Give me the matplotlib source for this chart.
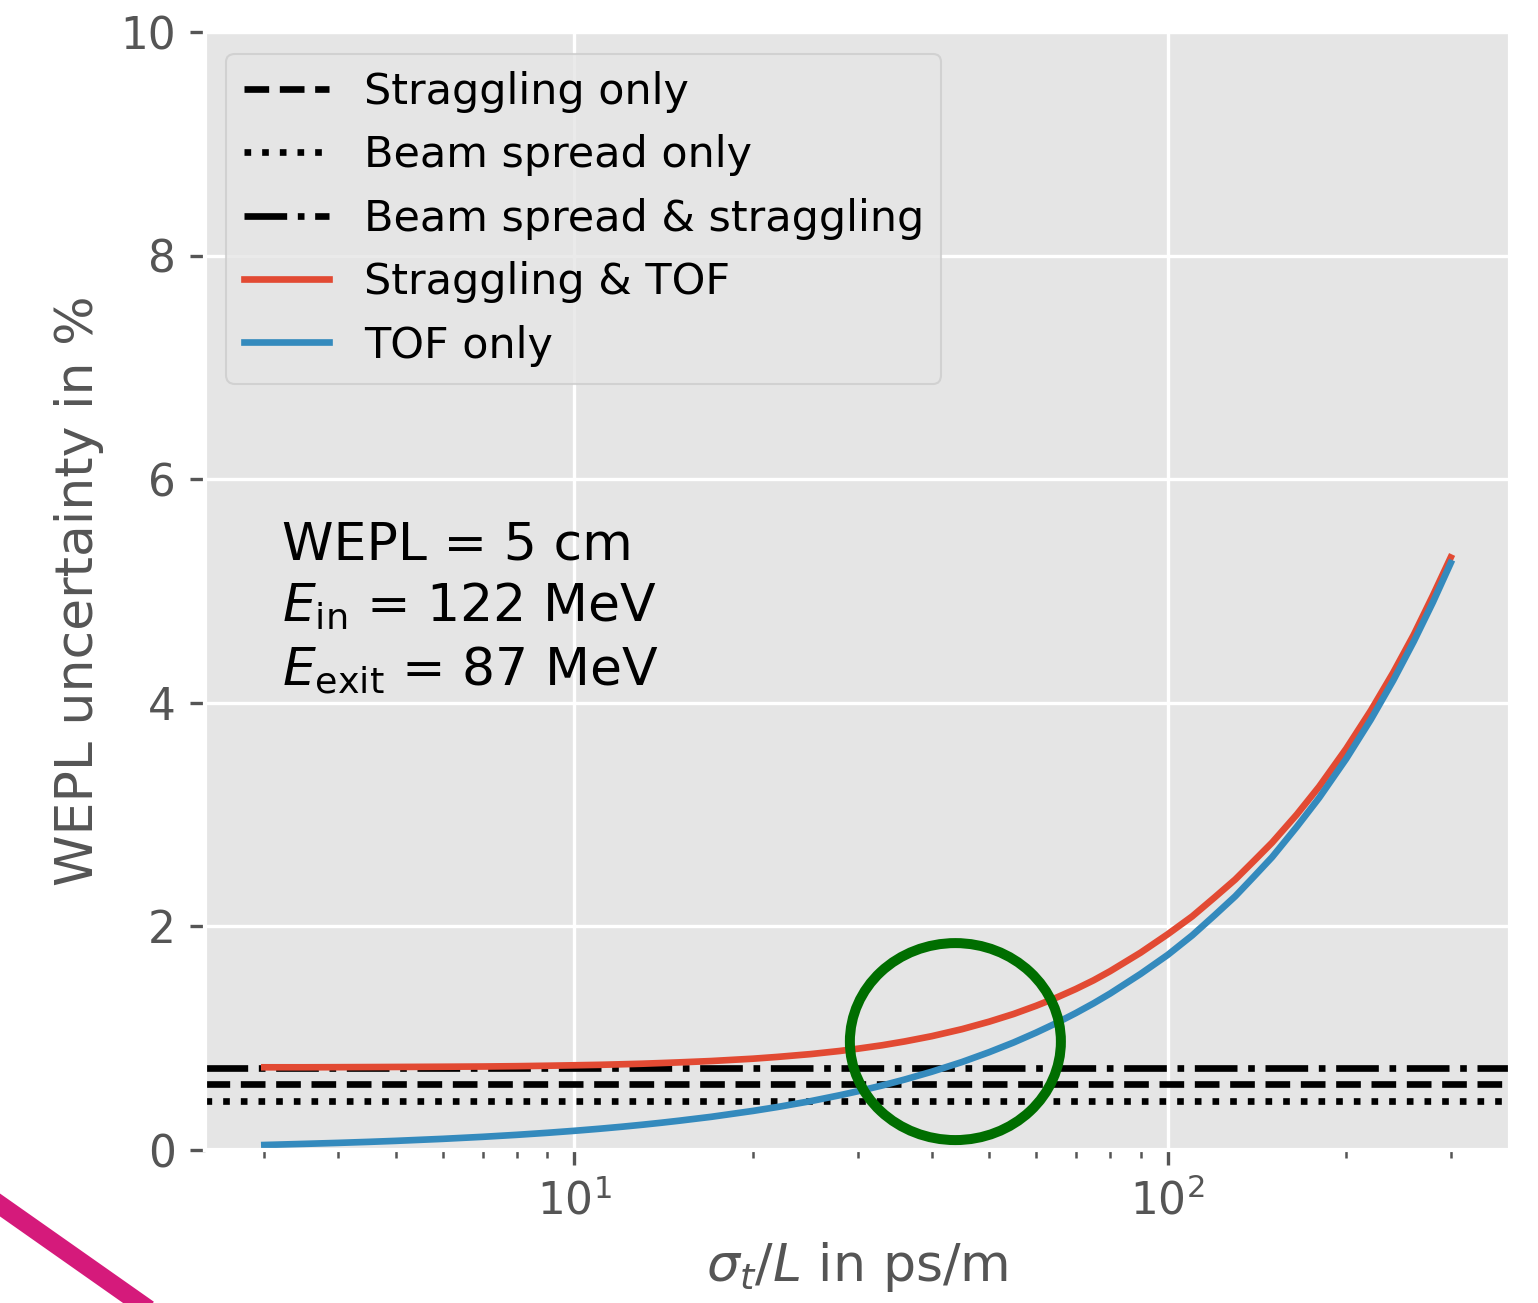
import matplotlib.pyplot as plt
from matplotlib.patches import Ellipse
from matplotlib.lines import Line2D

plt.style.use('ggplot')

# time resolution per path length (ps/m)
sigma_t = [3, 3.5, 4, 4.5, 5, 6, 7, 8, 9, 10, 11, 12, 13, 14, 15, 17, 20,
           22, 25, 28, 30, 33, 36, 40, 45, 50, 55, 60, 65, 70, 75, 80, 90,
           100, 110, 120, 130, 140, 150, 165, 180, 200, 220, 240, 260, 280,
           300]
# WEPL uncertainty in %
tof_only = [0.045, 0.055, 0.064, 0.073, 0.082, 0.100, 0.118, 0.136, 0.154,
            0.172, 0.190, 0.208, 0.226, 0.244, 0.262, 0.297, 0.350, 0.385,
            0.437, 0.490, 0.525, 0.577, 0.630, 0.700, 0.787, 0.875, 0.962,
            1.050, 1.137, 1.225, 1.312, 1.400, 1.575, 1.745, 1.92, 2.10,
            2.27, 2.45, 2.62, 2.89, 3.15, 3.50, 3.85, 4.20, 4.55, 4.90, 5.25]
straggling_tof = [0.74, 0.74, 0.741, 0.742, 0.743, 0.745, 0.747, 0.750,
                  0.754, 0.758, 0.762, 0.767, 0.772, 0.778, 0.784, 0.796,
                  0.817, 0.833, 0.858, 0.886, 0.906, 0.937, 0.971, 1.018,
                  1.081, 1.148, 1.217, 1.290, 1.364, 1.440, 1.518, 1.600,
                  1.765, 1.93, 2.09, 2.26, 2.42, 2.59, 2.75, 3.00, 3.25,
                  3.59, 3.93, 4.27, 4.61, 4.96, 5.30]
straggling_only = 0.59
beam_spread_only = 0.44
beam_spread_straggling = 0.735

fig = plt.figure(figsize=(1538 / 300, 1303 / 300), dpi=300)
ax = fig.add_axes([0.1333, 0.1174, 0.8485, 0.858])

ax.axhline(straggling_only, color='k', ls='--', lw=1.6, label='Straggling only')
ax.axhline(beam_spread_only, color='k', ls=':', lw=1.6, label='Beam spread only')
ax.axhline(beam_spread_straggling, color='k', ls='-.', lw=1.6,
           label='Beam spread & straggling')
ax.plot(sigma_t, straggling_tof, color='#E24A33', lw=1.6, label='Straggling & TOF')
ax.plot(sigma_t, tof_only, color='#348ABD', lw=1.6, label='TOF only')

ax.set_xscale('log')
ax.set_ylim(0, 10)
ax.tick_params(labelsize=10.5)
ax.set_xlabel(r'$\sigma_t/L$ in ps/m', fontsize=12.5)
ax.set_ylabel('WEPL uncertainty in %', fontsize=12.5)

ax.text(0.059, 0.563, 'WEPL = 5 cm\n$E_{\\rm in}$ = 122 MeV\n$E_{\\rm exit}$ = 87 MeV',
        transform=ax.transAxes, fontsize=12.5, va='top', ha='left', color='k',
        linespacing=1.27)

ax.legend(loc='upper left', fontsize=10.3)

# highlight where TOF starts to dominate
ax.add_patch(Ellipse((0.575, 0.097), 0.1617, 0.1762, transform=ax.transAxes,
                     fill=False, ec='#006e00', lw=2.4, zorder=5, clip_on=False))

fig.add_artist(Line2D([-0.013, 0.1105], [0.086, -0.0165], color='#d51a7b', lw=4.5))

fig.savefig('out.png', dpi=300)
